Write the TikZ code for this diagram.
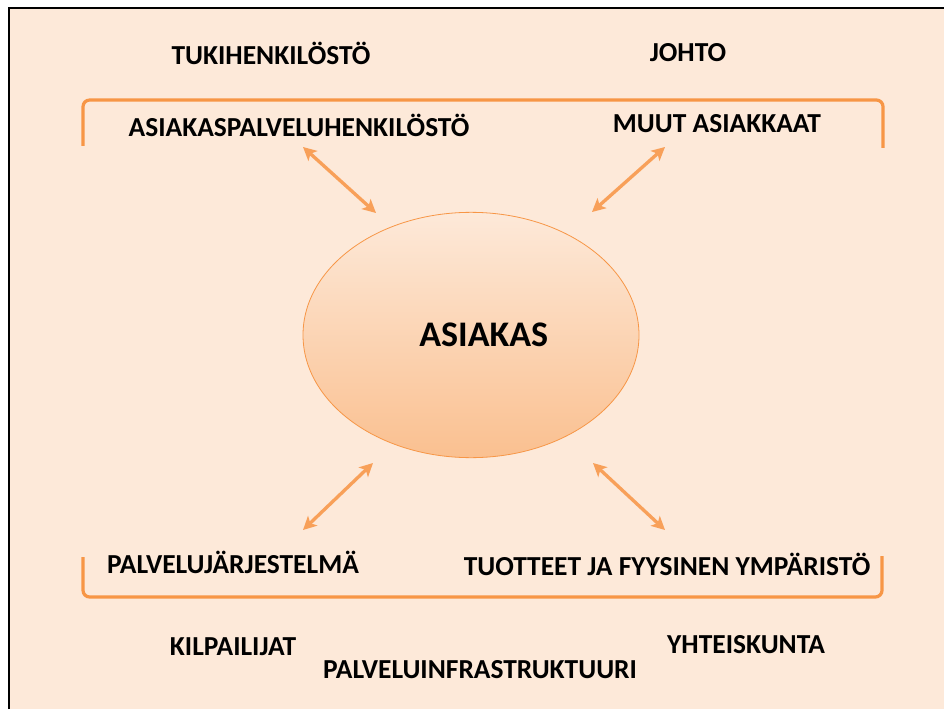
\documentclass[tikz,border=0pt]{standalone}
\usepackage{fontspec}
\setmainfont{Carlito}
\usetikzlibrary{arrows.meta}
\usetikzlibrary{positioning}
\usetikzlibrary{shapes.geometric}
\definecolor{peach}{RGB}{253, 233, 217}
\definecolor{tangerine}{RGB}{247, 150, 70}
\definecolor{apricot}{RGB}{250, 192, 144}

\begin{document}
\begin{tikzpicture}[x=0.75pt, y=-0.75pt,
        grouptext/.style={font=\bfseries\fontsize{20.6}{24}\selectfont, inner sep=0pt},
        twoway/.style={{Stealth[length=10pt, width=10pt, inset=2.5pt]}-{Stealth[length=10pt, width=10pt, inset=2.5pt]},
                       line width=2.5pt, color=tangerine!90},
        bracket/.style={line width=2.4pt, color=tangerine, rounded corners=5pt}]
            \useasboundingbox (0,0) rectangle (944,709);
            % Frame
            \fill[peach]                                 (9,8) rectangle (944,709);
            \draw[line width=1.4pt]                      (9,709) -- (9,8) -- (944,8);
            % Outer ring, top
            \node[grouptext] (tuki)    at (271, 53) {TUKIHENKILÖSTÖ};
            \node[grouptext] (johto)   at (688, 53) {JOHTO};
            % Inner ring, top
            \node[grouptext] (asp)     at (299,125) {ASIAKASPALVELUHENKILÖSTÖ};
            \node[grouptext] (muut)    at (717,124) {MUUT ASIAKKAAT};
            \draw[bracket]                               ( 83,146) -- ( 83,100) -- (883,100) -- (883,148);
            % Customer in the middle
            \node[ellipse, draw=tangerine, line width=0.6pt, top color=peach, bottom color=apricot,
                  minimum width=252pt, minimum height=184pt, inner sep=0pt,
                  font=\bfseries\fontsize{27}{30}\selectfont] (asiakas) at (471,335) {\hspace*{19pt}ASIAKAS};
            % Inner ring, bottom
            \node[grouptext] (pj)      at (233,562) {PALVELUJÄRJESTELMÄ};
            \node[grouptext] (tuot)    at (667,564) {TUOTTEET JA FYYSINEN YMPÄRISTÖ};
            \draw[bracket]                               ( 83,557) -- ( 83,597) -- (882,597) -- (882,556);
            % Outer ring, bottom
            \node[grouptext] (kilp)    at (233,647) {KILPAILIJAT};
            \node[grouptext] (pinfra)  at (480,670) {PALVELUINFRASTRUKTUURI};
            \node[grouptext] (yht)     at (746,645) {YHTEISKUNTA};
            % Arrow ends
            \coordinate (asp-tip)  at (303,147);
            \coordinate (muut-tip) at (665,147);
            \coordinate (pj-tip)   at (303,530);
            \coordinate (tuot-tip) at (665,530);
            \coordinate (asiakas-nw) at (376,213);
            \coordinate (asiakas-ne) at (592,212);
            \coordinate (asiakas-sw) at (373,463);
            \coordinate (asiakas-se) at (593,463);
            \draw[twoway] (asp-tip)  -- (asiakas-nw);
            \draw[twoway] (muut-tip) -- (asiakas-ne);
            \draw[twoway] (pj-tip)   -- (asiakas-sw);
            \draw[twoway] (tuot-tip) -- (asiakas-se);
        \end{tikzpicture}
\end{document}
